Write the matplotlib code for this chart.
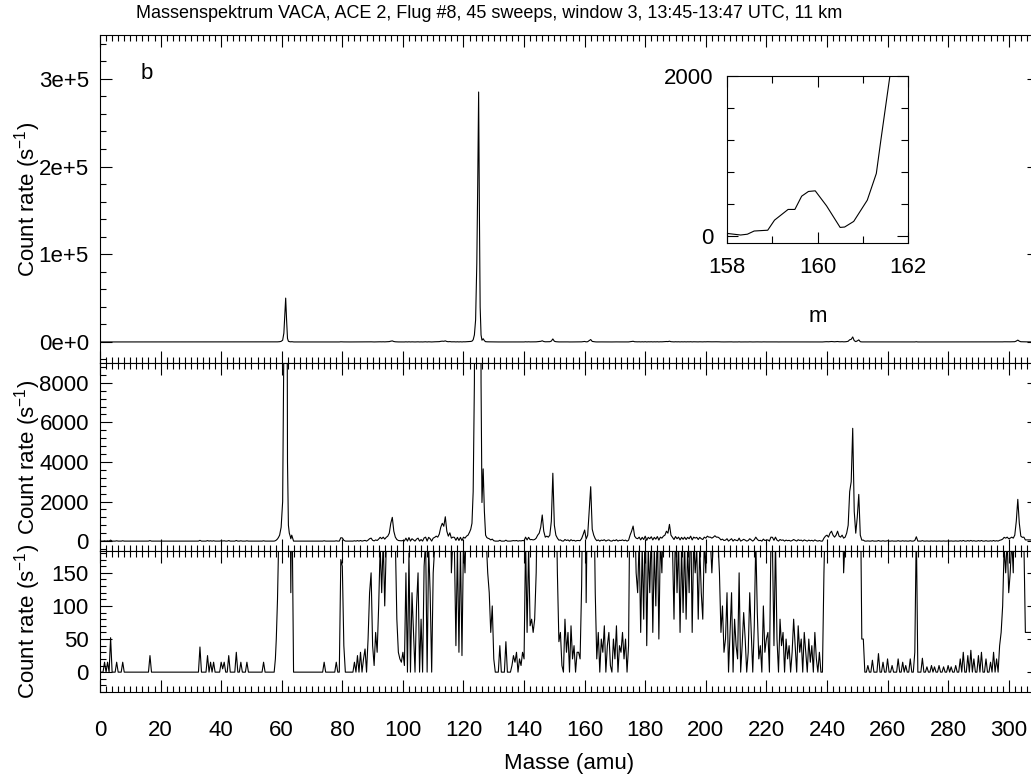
import numpy as np
import matplotlib
matplotlib.use("Agg")
import matplotlib.pyplot as plt
from matplotlib.ticker import MultipleLocator, FuncFormatter

plt.rcParams['font.family'] = ['Liberation Sans', 'DejaVu Sans']

# spectrum on a 0.5 amu grid, rows of 10 values (5 amu each)
grid_a_start = 0.0
grid_a = [
    0, 0, 0, 15, 0, 15, 0, 52, 0, 0,          # 0
    0, 15, 0, 0, 0, 15, 0, 0, 0, 0,           # 5
    0, 0, 0, 0, 0, 0, 0, 0, 0, 0,             # 10
    0, 0, 0, 25, 0, 0, 0, 0, 0, 0,            # 15
    0, 0, 0, 0, 0, 0, 0, 0, 0, 0,             # 20
    0, 0, 0, 0, 0, 0, 0, 0, 0, 0,             # 25
    0, 0, 0, 0, 0, 0, 38, 0, 0, 0,            # 30
    0, 25, 0, 15, 0, 15, 0, 0, 0, 0,          # 35
    15, 5, 15, 0, 0, 25, 0, 0, 0, 0,          # 40
    30, 0, 0, 15, 0, 0, 0, 15, 0, 0,          # 45
    0, 0, 0, 0, 0, 0, 0, 0, 15, 0,            # 50
    0, 0, 0, 0, 0,                            # 55
]

# m/z 61 peak, finer sampling
peak61_mass = [57.5, 57.9, 58.2, 58.6, 58.9, 59.3, 59.8, 60.3, 60.7, 61.0, 61.3,
               61.6, 61.9, 62.2, 62.5, 62.8, 63.0, 63.3, 63.6, 63.9]
peak61_rate = [0, 20, 50, 110, 180, 300, 700, 2000, 10000, 30000, 50000,
               25000, 4000, 800, 400, 250, 120, 300, 150, 0]

grid_b_start = 64.0
grid_b = [
    0, 0, 0, 0, 0, 0, 0, 0, 0, 0,                     # 64
    0, 0, 0, 0, 0, 0, 0, 0, 0, 0,                     # 69
    15, 0, 0, 0, 0, 0, 0, 0, 15, 0,                   # 74
    0, 170, 160, 40, 0, 0, 0, 0, 0, 0,                # 79
    15, 0, 25, 0, 30, 0, 20, 35, 0, 50,               # 84
    120, 150, 40, 10, 60, 30, 100, 190, 120, 200,     # 89
    100, 190, 250, 400, 900, 1200, 500, 200, 80, 30,  # 94
    20, 15, 30, 10, 150, 0, 180, 0, 120, 60,          # 99
    0, 100, 150, 0, 80, 0, 160, 200, 0, 190,          # 104
    120, 0, 150, 190, 250, 200, 350, 700, 900, 750,   # 109
    1230, 500, 250, 420, 150, 200, 190, 40, 190, 30,  # 114
    190, 25, 200, 150, 250,                           # 119
]

# m/z 125 peak, finer sampling
peak125_mass = [121.5, 122.0, 122.4, 122.8, 123.2, 123.6, 124.0, 124.4, 124.7,
                125.0, 125.25, 125.5, 125.8, 126.1, 126.5, 126.9, 127.3, 127.7]
peak125_rate = [300, 450, 600, 900, 2500, 8000, 25000, 90000, 180000,
                285000, 150000, 40000, 8000, 1950, 3650, 1500, 300, 180]

grid_c_start = 128.0
grid_c = [
    150, 120, 60, 100, 20, 0, 0, 0, 40, 0,            # 128
    0, 0, 46, 0, 0, 0, 10, 25, 15, 30,                # 133
    0, 20, 10, 30, 20, 200, 60, 190, 70, 80,          # 138
    60, 80, 150, 300, 400, 700, 1320, 500, 200, 250,  # 143
    200, 300, 1000, 3430, 800, 300, 150, 46, 60, 10,  # 148
    0, 80, 30, 60, 0, 70, 20, 40, 0, 30,              # 153
    30, 20, 130, 330, 560, 105, 300, 1500, 2750, 600, # 158
    300, 120, 20, 60, 0, 50, 30, 70, 0, 40,           # 163
    60, 10, 0, 50, 20, 70, 0, 40, 30, 60,             # 168
    20, 50, 0, 40, 300, 500, 760, 250, 150, 120,      # 173
    200, 60, 190, 80, 250, 40, 190, 120, 220, 60,     # 178
    190, 100, 230, 50, 200, 150, 250, 300, 500, 400,  # 183
    845, 300, 190, 80, 230, 120, 200, 60, 190, 90,    # 188
    200, 80, 190, 120, 250, 60, 200, 150, 190, 80,    # 193
    190, 120, 80, 200, 150, 250, 200, 200, 150, 200,  # 198
    270, 200, 200, 150, 60, 100, 30, 50, 120, 0,      # 203
    60, 120, 0, 80, 40, 20, 150, 0, 40, 90,           # 208
    50, 0, 30, 120, 60, 0, 70, 200, 90, 20,           # 213
    40, 0, 100, 30, 50, 60, 0, 200, 190, 40,          # 218
    200, 50, 0, 80, 40, 60, 0, 50, 20, 40,            # 223
    0, 30, 80, 40, 0, 70, 30, 50, 0, 60,              # 228
    30, 0, 50, 15, 40, 0, 60, 20, 0, 30,              # 233
    0, 0, 150, 250, 300, 200, 400, 500, 300, 200,     # 238
    300, 500, 250, 200, 300, 150, 200, 400, 800, 2500,  # 243
    3000, 5700, 1500, 400, 1200, 2360, 300, 50, 50, 0,  # 248
    0, 10, 0, 0, 18, 0, 0, 0, 28, 0,                  # 253
    0, 15, 0, 0, 20, 0, 0, 10, 0, 0,                  # 258
    0, 20, 0, 0, 15, 0, 10, 0, 0, 20,                 # 263
    0, 0, 30, 220, 0, 0, 0, 21, 0, 0,                 # 268
    8, 0, 0, 10, 0, 8, 0, 0, 10, 0,                   # 273
    0, 8, 0, 0, 10, 0, 8, 0, 0, 10,                   # 278
    0, 0, 20, 0, 30, 0, 0, 25, 0, 33,                 # 283
    0, 20, 0, 0, 25, 0, 30, 0, 0, 20,                 # 288
    0, 0, 15, 0, 30, 0, 20, 0, 40, 60,                # 293
    100, 190, 150, 200, 120, 150, 200, 150, 300, 1000,  # 298
    2110, 900, 250, 190, 200, 60, 60, 60, 60, 60,     # 303
    60, 60, 60, 60, 60,                               # 308
]

# inset: zoom on m/z 158-162
inset_mass = [158.0, 158.3, 158.45, 158.6, 158.9, 159.05, 159.35, 159.5, 159.65,
              159.8, 159.95, 160.2, 160.5, 160.6, 160.8, 161.1, 161.3, 161.4,
              161.6, 161.8]
inset_rate = [30, 10, 20, 60, 70, 196, 330, 330, 496,
              555, 563, 375, 105, 110, 180, 446, 780, 1196,
              2000, 3200]

title = "Massenspektrum VACA, ACE 2, Flug #8, 45 sweeps, window 3, 13:45-13:47 UTC, 11 km"


def grid_mass(start, vals):
    return start + 0.5 * np.arange(len(vals))


mass = np.concatenate([grid_mass(grid_a_start, grid_a), peak61_mass,
                       grid_mass(grid_b_start, grid_b), peak125_mass,
                       grid_mass(grid_c_start, grid_c)])
rate = np.concatenate([grid_a, peak61_rate, grid_b, peak125_rate, grid_c]).astype(float)
order = np.argsort(mass, kind="stable")
mass, rate = mass[order], rate[order]

W, H = 1031, 776
fig = plt.figure(figsize=(W / 100, H / 100), dpi=100)


def box(x0, y0, x1, y1):
    return [x0 / W, 1 - y1 / H, (x1 - x0) / W, (y1 - y0) / H]


left, right = 100, 1039
ax1 = fig.add_axes(box(left, 35, right, 363))
ax2 = fig.add_axes(box(left, 363, right, 551))
ax3 = fig.add_axes(box(left, 551, right, 692))

limits = [(-24000, 350000), (-500, 9000), (-30, 183)]
ymaj = [1e5, 2000, 50]
ymin = [2e4, 400, 10]

for ax, lim, mj, mn in zip([ax1, ax2, ax3], limits, ymaj, ymin):
    ax.plot(mass, rate, color="black", lw=0.8)
    ax.set_xlim(0, 310)
    ax.set_ylim(*lim)
    ax.xaxis.set_major_locator(MultipleLocator(20))
    ax.xaxis.set_minor_locator(MultipleLocator(2))
    ax.yaxis.set_major_locator(MultipleLocator(mj))
    ax.yaxis.set_minor_locator(MultipleLocator(mn))
    ax.tick_params(which="both", direction="in", top=True, right=True,
                   labelsize=16, width=0.8)
    ax.tick_params(which="major", length=8.5, pad=8)
    ax.tick_params(which="minor", length=4.5)
    ax.set_ylabel("Count rate (s$^{\\mathregular{-1}}$)", fontsize=16)
    ax.yaxis.set_label_coords(-0.061, 0.5)
    for s in ax.spines.values():
        s.set_linewidth(0.8)

ax1.tick_params(labelbottom=False)
ax2.tick_params(labelbottom=False)
ax1.yaxis.set_major_formatter(FuncFormatter(lambda v, p: "0e+0" if v == 0 else f"{v / 1e5:.0f}e+5"))
ax3.tick_params(axis="x", pad=20)
ax3.set_xlabel("Masse (amu)", fontsize=16, labelpad=9)

ax1.text(0.043, 0.865, "b", transform=ax1.transAxes, fontsize=16)
fig.text(489 / W, 1 - 14 / H, title, ha="center", va="center", fontsize=13)

axi = fig.add_axes(box(727, 76, 908, 243))
axi.plot(inset_mass, inset_rate, color="black", lw=0.8)
axi.set_xlim(158, 162)
axi.set_ylim(-90, 2000)
axi.set_xticks([158, 160, 162])
axi.xaxis.set_minor_locator(MultipleLocator(1))
axi.set_yticks([0, 2000])
axi.yaxis.set_minor_locator(MultipleLocator(400))
axi.tick_params(which="both", direction="in", top=True, right=True, labelsize=16, width=0.8)
axi.tick_params(which="major", length=8, pad=10)
axi.tick_params(which="minor", length=5)
axi.set_xlabel("m", fontsize=16, labelpad=20)
for s in axi.spines.values():
    s.set_linewidth(0.8)

fig.savefig("out.png", dpi=100)
